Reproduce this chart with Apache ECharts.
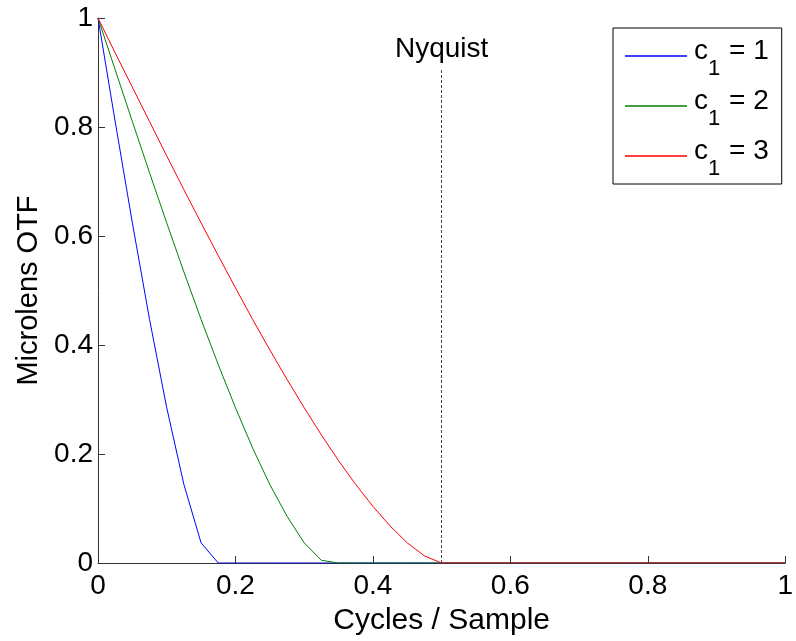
<!DOCTYPE html>
<html>
<head>
<meta charset="utf-8">
<script src="https://cdn.jsdelivr.net/npm/echarts@6/dist/echarts.min.js"></script>
<style>
html,body{margin:0;padding:0;background:#fff;}
#chart{width:796px;height:641px;}
</style>
</head>
<body>
<div id="chart"></div>
<script>
// Spatial frequency samples (cycles / sample)
const freq = [0, 0.025, 0.05, 0.075, 0.1, 0.125, 0.15, 0.175, 0.2, 0.225,
  0.25, 0.275, 0.3, 0.325, 0.35, 0.375, 0.4, 0.425, 0.45, 0.475,
  0.5, 0.525, 0.55, 0.575, 0.6, 0.625, 0.65, 0.675, 0.7, 0.725,
  0.75, 0.775, 0.8, 0.825, 0.85, 0.875, 0.9, 0.925, 0.95, 0.975, 1];

const seriesNames = ['1', '2', '3'];
const otfC1 = [1, 0.810, 0.624, 0.447, 0.285, 0.144, 0.037, 0, 0, 0,
  0, 0, 0, 0, 0, 0, 0, 0, 0, 0,
  0, 0, 0, 0, 0, 0, 0, 0, 0, 0,
  0, 0, 0, 0, 0, 0, 0, 0, 0, 0, 0];
const otfC2 = [1, 0.905, 0.810, 0.716, 0.624, 0.534, 0.447, 0.364, 0.285, 0.211,
  0.144, 0.086, 0.037, 0.005, 0, 0, 0, 0, 0, 0,
  0, 0, 0, 0, 0, 0, 0, 0, 0, 0,
  0, 0, 0, 0, 0, 0, 0, 0, 0, 0, 0];
const otfC3 = [1, 0.936, 0.873, 0.810, 0.747, 0.685, 0.624, 0.564, 0.505, 0.447,
  0.391, 0.337, 0.285, 0.235, 0.188, 0.144, 0.104, 0.068, 0.037, 0.013,
  0, 0, 0, 0, 0, 0, 0, 0, 0, 0,
  0, 0, 0, 0, 0, 0, 0, 0, 0, 0, 0];
const colors = ['#0000ff', '#008000', '#ff0000'];
const nyquistX = 0.5;
const nyquistTop = 0.905;
const xTicks = [0, 0.2, 0.4, 0.6, 0.8, 1];
const yTicks = [0, 0.2, 0.4, 0.6, 0.8, 1];

const FONT = 'Liberation Sans, Arial, Helvetica, sans-serif';
const allData = [otfC1, otfC2, otfC3];

const chart = echarts.init(document.getElementById('chart'), null, {renderer: 'canvas'});

const series = allData.map((vals, i) => ({
  name: 'c1 = ' + seriesNames[i],
  type: 'line',
  data: freq.map((x, j) => [x, vals[j]]),
  showSymbol: false,
  symbol: 'none',
  lineStyle: {color: colors[i], width: 1},
  itemStyle: {color: colors[i]},
  animation: false,
  z: 3 + i
}));

series[0].markLine = {
  silent: true,
  symbol: ['none', 'none'],
  animation: false,
  lineStyle: {color: '#444', type: [3, 2], width: 1},
  label: {
    show: true,
    position: 'end',
    formatter: 'Nyquist',
    color: '#000',
    fontSize: 28,
    fontFamily: FONT,
    distance: 6
  },
  data: [[{coord: [nyquistX, 0]}, {coord: [nyquistX, nyquistTop]}]]
};

const option = {
  backgroundColor: '#fff',
  animation: false,
  grid: {left: 98, right: 6, top: 18, bottom: 77, containLabel: false},
  legend: {
    data: series.map(s => s.name),
    orient: 'vertical',
    left: 613,
    top: 28,
    padding: [3, 13, 3, 12],
    itemGap: 0,
    itemWidth: 62,
    itemHeight: 1.5,
    icon: 'rect',
    borderColor: '#000',
    borderWidth: 1,
    backgroundColor: '#fff',
    formatter: function (name) {
      const n = name.split('= ')[1];
      return '{z|\u200b}{c|c}{s|1}{c| = ' + n + '}';
    },
    textStyle: {
      color: '#000',
      fontFamily: FONT,
      padding: [0, 0, 0, 2],
      rich: {
        z: {fontSize: 10, lineHeight: 50, verticalAlign: 'middle'},
        c: {fontSize: 28, fontFamily: FONT, color: '#000', lineHeight: 40, verticalAlign: 'top', padding: [6, 0, 0, 0]},
        s: {fontSize: 22, fontFamily: FONT, color: '#000', lineHeight: 30, verticalAlign: 'bottom', padding: [0, 1, 1, 0]}
      }
    }
  },
  xAxis: {
    type: 'value',
    min: xTicks[0],
    max: xTicks[xTicks.length - 1],
    interval: xTicks[1] - xTicks[0],
    name: 'Cycles / Sample',
    nameLocation: 'middle',
    nameGap: 43,
    nameTextStyle: {fontSize: 30, fontFamily: FONT, color: '#000'},
    axisLine: {show: true, onZero: false, lineStyle: {color: '#333', width: 1}},
    axisTick: {show: true, inside: true, length: 7, lineStyle: {color: '#333'}},
    axisLabel: {fontSize: 28, fontFamily: FONT, color: '#000', margin: 9},
    splitLine: {show: false}
  },
  yAxis: {
    type: 'value',
    min: yTicks[0],
    max: yTicks[yTicks.length - 1],
    interval: yTicks[1] - yTicks[0],
    name: 'Microlens OTF',
    nameLocation: 'middle',
    nameGap: 52,
    nameTextStyle: {fontSize: 29, fontFamily: FONT, color: '#000'},
    axisLine: {show: true, lineStyle: {color: '#333', width: 1}},
    axisTick: {show: true, inside: true, length: 7, lineStyle: {color: '#333'}},
    axisLabel: {fontSize: 28, fontFamily: FONT, color: '#000', margin: 5},
    splitLine: {show: false}
  },
  series: series
};

chart.setOption(option);
</script>
</body>
</html>
